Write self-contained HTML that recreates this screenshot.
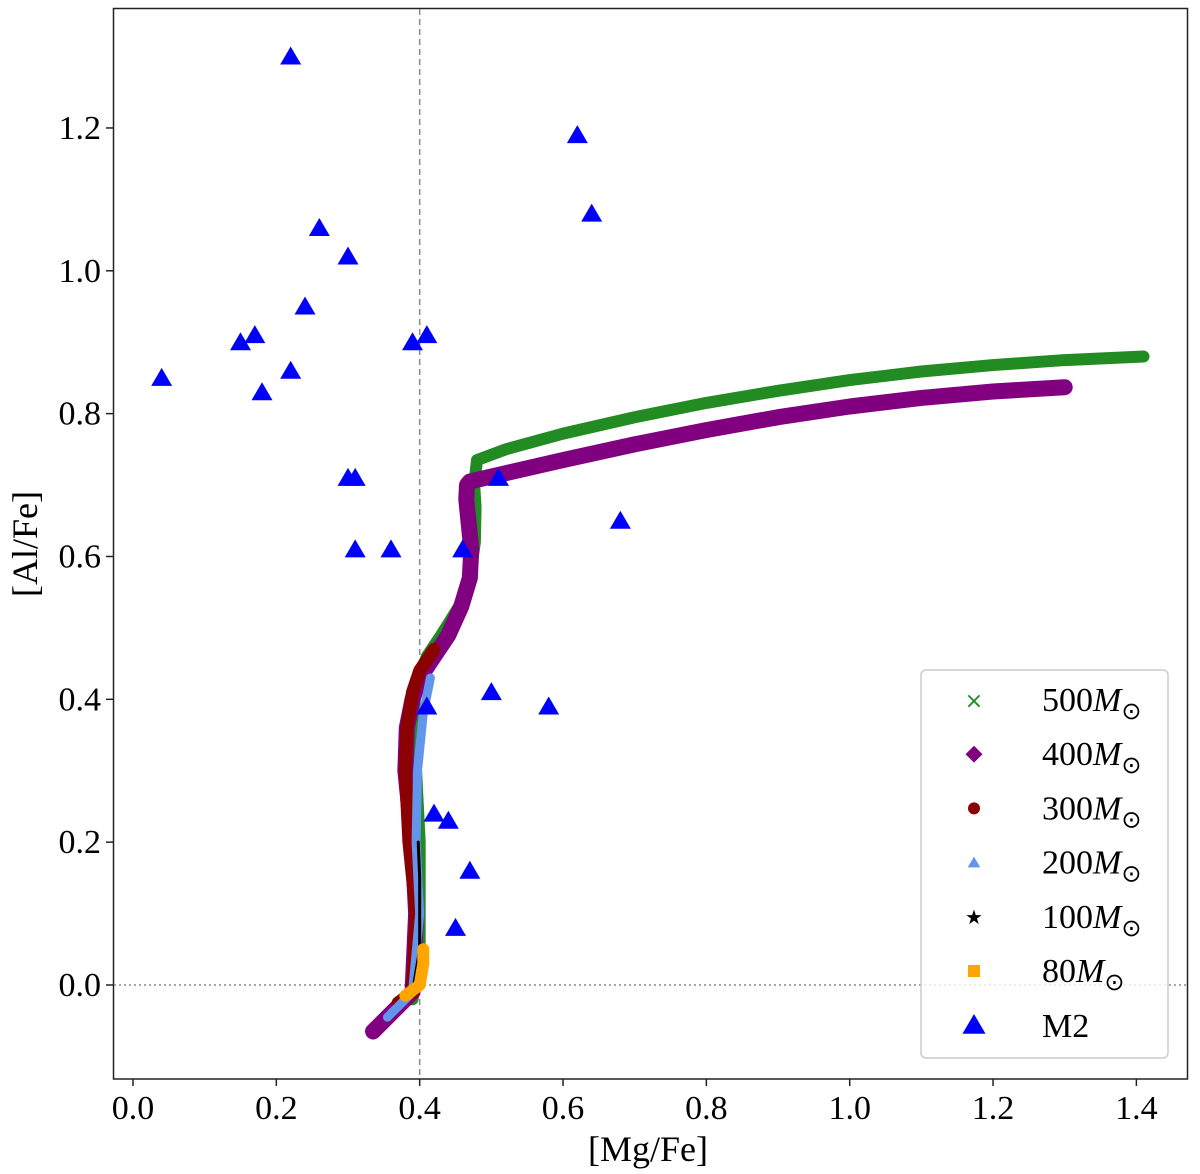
<!DOCTYPE html>
<html><head><meta charset="utf-8"><style>
body{margin:0;background:#fff}
svg{display:block;font-family:"Liberation Serif",serif}
</style></head><body>
<svg id="chart" width="1200" height="1174">
<rect x="113.5" y="8.5" width="1074" height="1070.5" fill="none" stroke="#222" stroke-width="1.5"/>
<g id="ticks"></g>
<g id="marks"></g>
<text x="648" y="1161" font-size="36" text-anchor="middle">[Mg/Fe]</text>
<text transform="translate(37,544) rotate(-90)" font-size="36" text-anchor="middle">[Al/Fe]</text>
<g id="legend"></g>
</svg>
<script>
const xTicks=[0.0,0.2,0.4,0.6,0.8,1.0,1.2,1.4];
const yTicks=[0.0,0.2,0.4,0.6,0.8,1.0,1.2];
const s500x=[0.39,0.40,0.40,0.395,0.39,0.395,0.41,0.43,0.455,0.47,0.477,0.478,0.476,0.48,0.52,0.6,0.7,0.8,0.9,1.0,1.1,1.2,1.3,1.41];
const s500y=[-0.02,0.05,0.2,0.3,0.36,0.42,0.46,0.49,0.53,0.57,0.62,0.67,0.70,0.735,0.75,0.772,0.795,0.815,0.832,0.847,0.859,0.868,0.875,0.88];
const s400x=[0.335,0.36,0.39,0.395,0.39,0.38,0.382,0.39,0.40,0.42,0.44,0.458,0.47,0.472,0.468,0.465,0.466,0.47,0.5,0.6,0.7,0.8,0.9,1.0,1.1,1.2,1.3];
const s400y=[-0.065,-0.04,-0.01,0.1,0.2,0.3,0.36,0.40,0.43,0.46,0.49,0.53,0.57,0.61,0.65,0.68,0.70,0.705,0.712,0.735,0.757,0.777,0.795,0.81,0.822,0.831,0.837];
const s300x=[0.37,0.39,0.395,0.385,0.38,0.382,0.39,0.40,0.42];
const s300y=[-0.025,-0.01,0.1,0.2,0.3,0.36,0.41,0.44,0.47];
const s200x=[0.355,0.39,0.40,0.395,0.397,0.405,0.415];
const s200y=[-0.045,-0.01,0.1,0.2,0.3,0.38,0.43];
const s100x=[0.39,0.40,0.40,0.398];
const s100y=[-0.01,0.05,0.15,0.2];
const s80x=[0.38,0.40,0.405,0.405];
const s80y=[-0.015,0.0,0.03,0.05];
const m2x=[0.22,0.62,0.64,0.26,0.30,0.24,0.15,0.17,0.22,0.18,0.04,0.39,0.41,0.30,0.31,0.51,0.68,0.31,0.36,0.46,0.50,0.58,0.41,0.42,0.44,0.47,0.45];
const m2y=[1.30,1.19,1.08,1.06,1.02,0.95,0.90,0.91,0.86,0.83,0.85,0.90,0.91,0.71,0.71,0.71,0.65,0.61,0.61,0.61,0.41,0.39,0.39,0.24,0.23,0.16,0.08];
const legendLabels=["500","400","300","200","100","80"];
const NS="http://www.w3.org/2000/svg";
const X=v=>133+716.7*v, Y=v=>985-714.2*v;
function mk(t,a,p){const e=document.createElementNS(NS,t);for(const k in a)e.setAttribute(k,a[k]);(p||document.getElementById('marks')).appendChild(e);return e;}
const tk=document.getElementById('ticks');
xTicks.forEach(v=>{const l=mk('line',{x1:X(v),x2:X(v),y1:1079,y2:1086,stroke:'#222','stroke-width':1.5},tk);


const t=mk('text',{x:X(v),y:1119,'font-size':34,'text-anchor':'middle'},tk);t.textContent=v.toFixed(1);

});
yTicks.forEach(v=>{const l=mk('line',{x1:106,x2:113,y1:Y(v),y2:Y(v),stroke:'#222','stroke-width':1.5},tk);


const t=mk('text',{x:101,y:Y(v)+11,'font-size':34,'text-anchor':'end'},tk);t.textContent=v.toFixed(1);

});
const vl=mk('line',{x1:X(0.4),x2:X(0.4),y1:9,y2:1078,stroke:'#888','stroke-width':1.5,'stroke-dasharray':'6,4'});


const hl=mk('line',{x1:114,x2:1186,y1:Y(0),y2:Y(0),stroke:'#888','stroke-width':1.5,'stroke-dasharray':'2,3'});


function band(xs,ys,col,w,name){const pts=xs.map((x,i)=>X(x)+','+Y(ys[i])).join(' ');
const p=mk('polyline',{points:pts,fill:'none',stroke:col,'stroke-width':w,'stroke-linejoin':'round','stroke-linecap':'round'});

}
band(s500x,s500y,'#228b22',12,'series-500');
band(s400x,s400y,'#800080',16,'series-400');
const d=mk('rect',{x:X(0.335)-6,y:Y(-0.065)-6,width:12,height:12,fill:'#800080',transform:`rotate(45 ${X(0.335)} ${Y(-0.065)})`});


band(s300x,s300y,'#8b0000',13,'series-300');
band(s200x,s200y,'#6495ed',9,'series-200');
band(s100x,s100y,'#000',3,'series-100');
band(s80x,s80y,'#ffa500',12,'series-80');
function tri(cx,cy,s){return `${cx},${cy-s} ${cx-s*1.05},${cy+s*0.8} ${cx+s*1.05},${cy+s*0.8}`;}
m2x.forEach((x,i)=>{const t=mk('polygon',{points:tri(X(x),Y(m2y[i]),10),fill:'#0000ff'});

});
const lg=document.getElementById('legend');
mk('rect',{x:921,y:670,width:247,height:388,rx:5,fill:'#fff','fill-opacity':0.8,stroke:'#ccc','stroke-width':1.5},lg);
const cols=['#228b22','#800080','#8b0000','#6495ed','#000','#ffa500'];
legendLabels.forEach((l,i)=>{const y=700+i*54.2;const cx=974;
let m;
if(i==0){m=mk('text',{x:cx,y:y+8,'font-size':22,'text-anchor':'middle',fill:cols[0],'font-family':'DejaVu Sans'},lg);m.textContent='×';}
else if(i==1){m=mk('rect',{x:cx-6,y:y-6,width:12,height:12,fill:cols[1],transform:`rotate(45 ${cx} ${y})`},lg);}
else if(i==2){m=mk('circle',{cx:cx,cy:y,r:6,fill:cols[2]},lg);}
else if(i==3){m=mk('polygon',{points:tri(cx,y,6),fill:cols[3]},lg);}
else if(i==4){m=mk('text',{x:cx,y:y+7,'font-size':20,'text-anchor':'middle','font-family':'DejaVu Sans'},lg);m.textContent='★';}
else {m=mk('rect',{x:cx-6,y:y-6,width:12,height:12,fill:cols[5]},lg);}


const t=mk('text',{x:1042,y:y+11,'font-size':34},lg);
t.innerHTML=l+'<tspan font-style="italic">M</tspan><tspan font-size="24" dy="8">⊙</tspan>';

});
const lm=mk('polygon',{points:tri(974,1025,11),fill:'#0000ff'},lg);


const lt=mk('text',{x:1042,y:1037,'font-size':34},lg);lt.textContent='M2';


</script>
</body></html>
